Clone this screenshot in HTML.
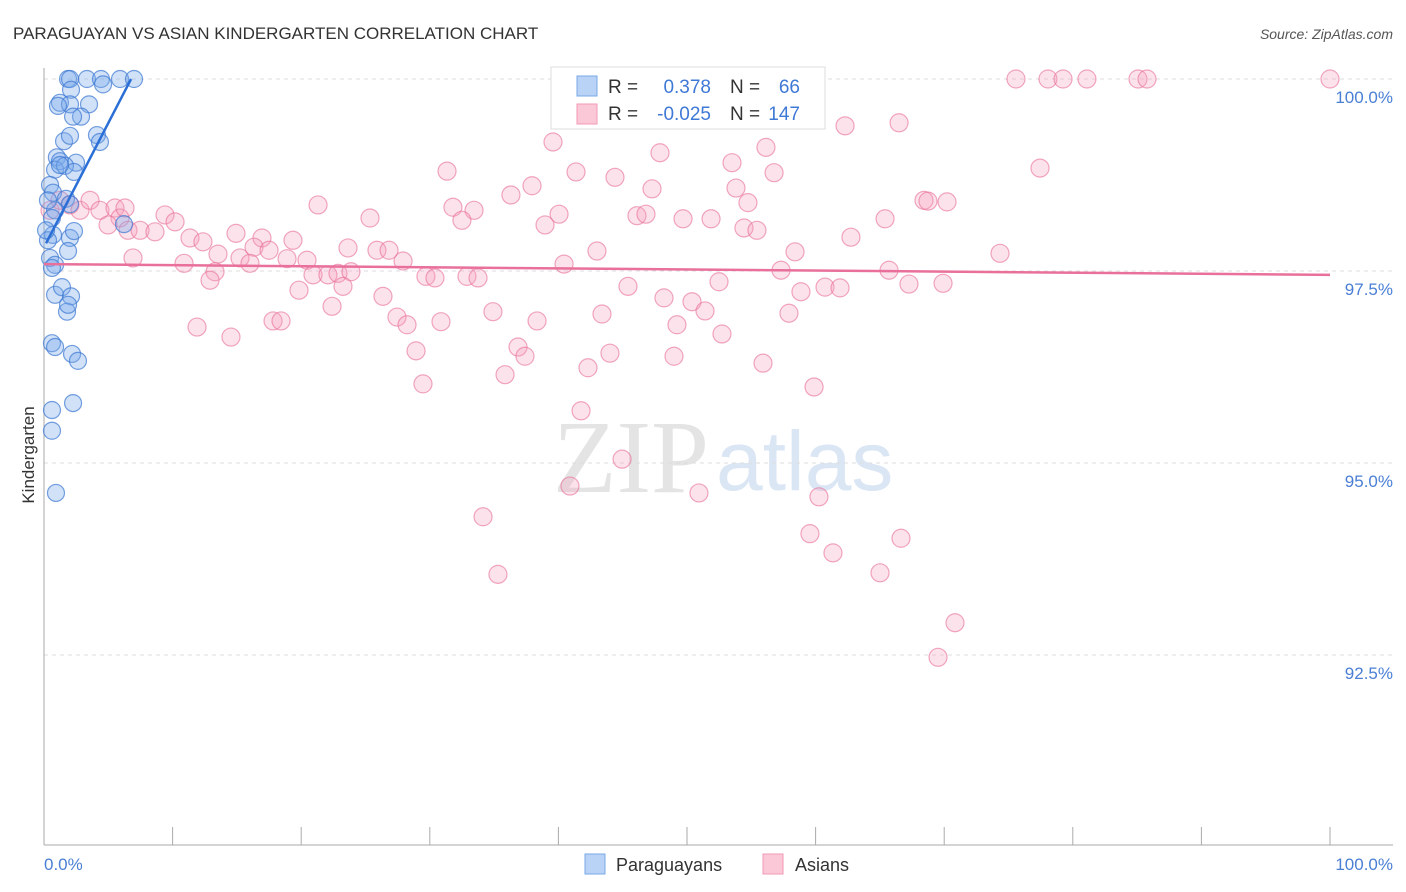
<!DOCTYPE html>
<html><head><meta charset="utf-8"><style>
body{margin:0;background:#fff;font-family:"Liberation Sans",sans-serif}
svg{display:block}
</style></head><body>
<svg id="chart" width="1406" height="892" viewBox="0 0 1406 892" xmlns="http://www.w3.org/2000/svg">
<text x="13" y="39" font-size="17" fill="#333">PARAGUAYAN VS ASIAN KINDERGARTEN CORRELATION CHART</text>
<text x="1393" y="39" font-size="14" fill="#555" font-style="italic" text-anchor="end">Source: ZipAtlas.com</text>
<g>
<text x="553" y="492" font-family="Liberation Serif,serif" font-size="104" fill="#e4e4e4">ZIP</text>
<text x="716" y="490" font-size="84" fill="#dbe6f5">atlas</text>
</g>
<g id="grid"></g>
<g id="axes"></g>
<text transform="translate(34,455) rotate(-90)" font-size="17" fill="#333" text-anchor="middle">Kindergarten</text>
<g id="pts"></g>
<g id="lines"></g>
<g>
<rect x="551" y="67" width="274" height="62" fill="#fff" stroke="#ddd"/>
<rect x="577" y="76" width="20" height="20" fill="#b8d3f5" stroke="#7aa8e8"/>
<rect x="577" y="104" width="20" height="20" fill="#fbc8d8" stroke="#f29ab5"/>
<text x="608" y="93" font-size="19" fill="#333">R =</text>
<text x="711" y="93" font-size="19" fill="#3f79d6" text-anchor="end">0.378</text>
<text x="730" y="93" font-size="19" fill="#333">N =</text>
<text x="800" y="93" font-size="19" fill="#3f79d6" text-anchor="end">66</text>
<text x="608" y="120" font-size="19" fill="#333">R =</text>
<text x="711" y="120" font-size="19" fill="#3f79d6" text-anchor="end">-0.025</text>
<text x="730" y="120" font-size="19" fill="#333">N =</text>
<text x="800" y="120" font-size="19" fill="#3f79d6" text-anchor="end">147</text>
</g>
<g>
<rect x="585" y="854" width="20" height="20" fill="#b8d3f5" stroke="#7aa8e8"/>
<text x="616" y="871" font-size="18" fill="#333">Paraguayans</text>
<rect x="763" y="854" width="20" height="20" fill="#fbc8d8" stroke="#f29ab5"/>
<text x="795" y="871" font-size="18" fill="#333">Asians</text>
</g>
</svg>
<script>
const yTicks=[100,97.5,95,92.5];
const yTickLabels=["100.0%","97.5%","95.0%","92.5%"];
const xTickLabels=["0.0%","100.0%"];
const blueX=[1.87,2.02,3.34,4.43,4.59,5.91,7.0,2.10,1.24,2.02,3.50,1.09,2.88,2.26,1.56,2.02,4.12,4.35,1.0,1.24,2.49,0.86,1.63,2.33,1.24,0.47,0.70,1.71,2.02,0.86,0.62,6.22,0.70,2.02,2.33,1.87,0.31,0.47,0.86,0.62,0.86,1.40,2.10,1.79,1.87,0.62,0.86,2.18,2.64,0.62,2.26,0.62,0.93,0.31,0.16];
const blueY=[100,100,100,100,99.93,100,100,99.86,99.69,99.67,99.67,99.65,99.51,99.51,99.19,99.26,99.27,99.18,98.98,98.93,98.91,98.82,98.87,98.79,98.88,98.62,98.52,98.44,98.37,98.29,98.19,98.11,97.97,97.93,98.02,97.76,97.90,97.67,97.58,97.54,97.19,97.29,97.17,96.97,97.06,96.56,96.51,96.42,96.33,95.69,95.78,95.42,94.61,98.42,98.03];
const pinkX=[75.58,78.07,79.24,81.10,85.07,85.77,100,39.58,47.90,53.50,56.14,62.29,66.49,77.45,31.34,41.37,44.40,37.95,36.31,47.28,53.81,56.77,21.31,31.80,33.44,32.50,40.05,38.96,46.11,46.81,49.69,51.87,54.74,54.43,55.44,65.40,68.43,68.74,70.22,25.35,14.93,16.95,19.36,62.75,74.34,11.35,12.36,13.53,15.24,16.33,17.50,18.90,20.45,23.64,25.89,26.83,27.92,40.44,43.0,58.40,10.89,13.30,12.91,16.02,20.92,22.08,22.86,23.87,29.70,30.40,32.89,33.75,57.31,65.71,19.83,23.25,26.36,22.40,45.41,52.49,58.86,60.73,61.90,67.26,69.91,11.90,14.54,17.81,18.43,27.45,28.23,30.87,34.91,38.34,43.39,48.21,50.39,51.40,49.22,57.93,28.93,36.86,37.40,44.01,48.99,52.72,55.91,29.47,35.85,42.30,59.88,41.76,44.95,40.90,50.93,60.26,34.14,59.56,66.64,61.35,35.30,65.01,70.84,69.52,0.47,1.24,2.02,2.80,3.58,4.35,5.52,5.91,4.98,6.53,7.47,8.63,6.30,9.41,10.19,6.92];
const pinkY=[100,100,100,100,100,100,100,99.18,99.04,98.91,99.11,99.39,99.43,98.84,98.80,98.79,98.72,98.61,98.49,98.57,98.58,98.78,98.36,98.33,98.29,98.16,98.24,98.10,98.22,98.24,98.18,98.18,98.39,98.06,98.03,98.18,98.42,98.41,98.40,98.19,97.99,97.93,97.90,97.94,97.73,97.93,97.88,97.72,97.67,97.81,97.77,97.66,97.64,97.80,97.77,97.77,97.63,97.59,97.76,97.75,97.60,97.49,97.38,97.60,97.45,97.45,97.47,97.49,97.43,97.41,97.43,97.41,97.51,97.51,97.25,97.30,97.17,97.04,97.30,97.36,97.23,97.29,97.28,97.33,97.34,96.77,96.64,96.85,96.85,96.90,96.80,96.84,96.97,96.85,96.94,97.15,97.10,96.98,96.80,96.95,96.46,96.51,96.39,96.43,96.39,96.68,96.30,96.03,96.15,96.24,95.99,95.68,95.05,94.70,94.61,94.56,94.30,94.08,94.02,93.83,93.55,93.57,92.92,92.47,98.29,98.42,98.36,98.29,98.42,98.29,98.32,98.19,98.10,98.03,98.03,98.01,98.32,98.23,98.14,97.67];
const blueTrend=[[0.16,97.86],[6.77,100]];
const pinkTrend=[[0,97.59],[100,97.45]];
const NS="http://www.w3.org/2000/svg";
const X0=44,X1=1330,Y100=79,PXPER=76.8;
function xs(v){return X0+(X1-X0)*v/100;}
function ys(v){return Y100+(100-v)*PXPER;}
function mk(tag,attrs,parent){const e=document.createElementNS(NS,tag);for(const k in attrs)e.setAttribute(k,attrs[k]);parent.appendChild(e);return e;}
const grid=document.getElementById('grid'),axes=document.getElementById('axes');
yTicks.forEach((t,i)=>{
 const l=mk('line',{x1:44,x2:1393,y1:ys(t),y2:ys(t),stroke:'#ddd','stroke-dasharray':'4,4'},grid);
 
 
 const tx=mk('text',{x:1393,y:ys(t)+24,'font-size':17,fill:'#4a7fd4','text-anchor':'end'},axes);
 tx.textContent=yTickLabels[i];
 
 
});
const ya=mk('line',{x1:44,x2:44,y1:68,y2:845,stroke:'#aaa'},axes);


const xa=mk('line',{x1:44,x2:1393,y1:845,y2:845,stroke:'#aaa'},axes);


for(let i=1;i<=10;i++){
 const t=mk('line',{x1:xs(i*10),x2:xs(i*10),y1:827,y2:845,stroke:'#aaa'},axes);
 
 
}
const xl0=mk('text',{x:44,y:870,'font-size':17,fill:'#4a7fd4'},axes);xl0.textContent=xTickLabels[0];


const xl1=mk('text',{x:1393,y:870,'font-size':17,fill:'#4a7fd4','text-anchor':'end'},axes);xl1.textContent=xTickLabels[1];


const pts=document.getElementById('pts');
pinkX.forEach((x,i)=>{
 const c=mk('circle',{cx:xs(x),cy:ys(pinkY[i]),r:9,fill:'rgba(246,160,190,0.3)',stroke:'rgba(232,110,150,0.6)','stroke-width':1.2},pts);
 
 
});
blueX.forEach((x,i)=>{
 const c=mk('circle',{cx:xs(x),cy:ys(blueY[i]),r:8.5,fill:'rgba(120,170,235,0.35)',stroke:'rgba(60,120,210,0.7)','stroke-width':1.2},pts);
 
 
});
const lines=document.getElementById('lines');
const bl=mk('line',{x1:xs(blueTrend[0][0]),y1:ys(blueTrend[0][1]),x2:xs(blueTrend[1][0]),y2:ys(blueTrend[1][1]),stroke:'#2b6fd6','stroke-width':2.5},lines);


const pl=mk('line',{x1:xs(pinkTrend[0][0]),y1:ys(pinkTrend[0][1]),x2:xs(pinkTrend[1][0]),y2:ys(pinkTrend[1][1]),stroke:'#e8709a','stroke-width':2.5},lines);


</script>
</body></html>
